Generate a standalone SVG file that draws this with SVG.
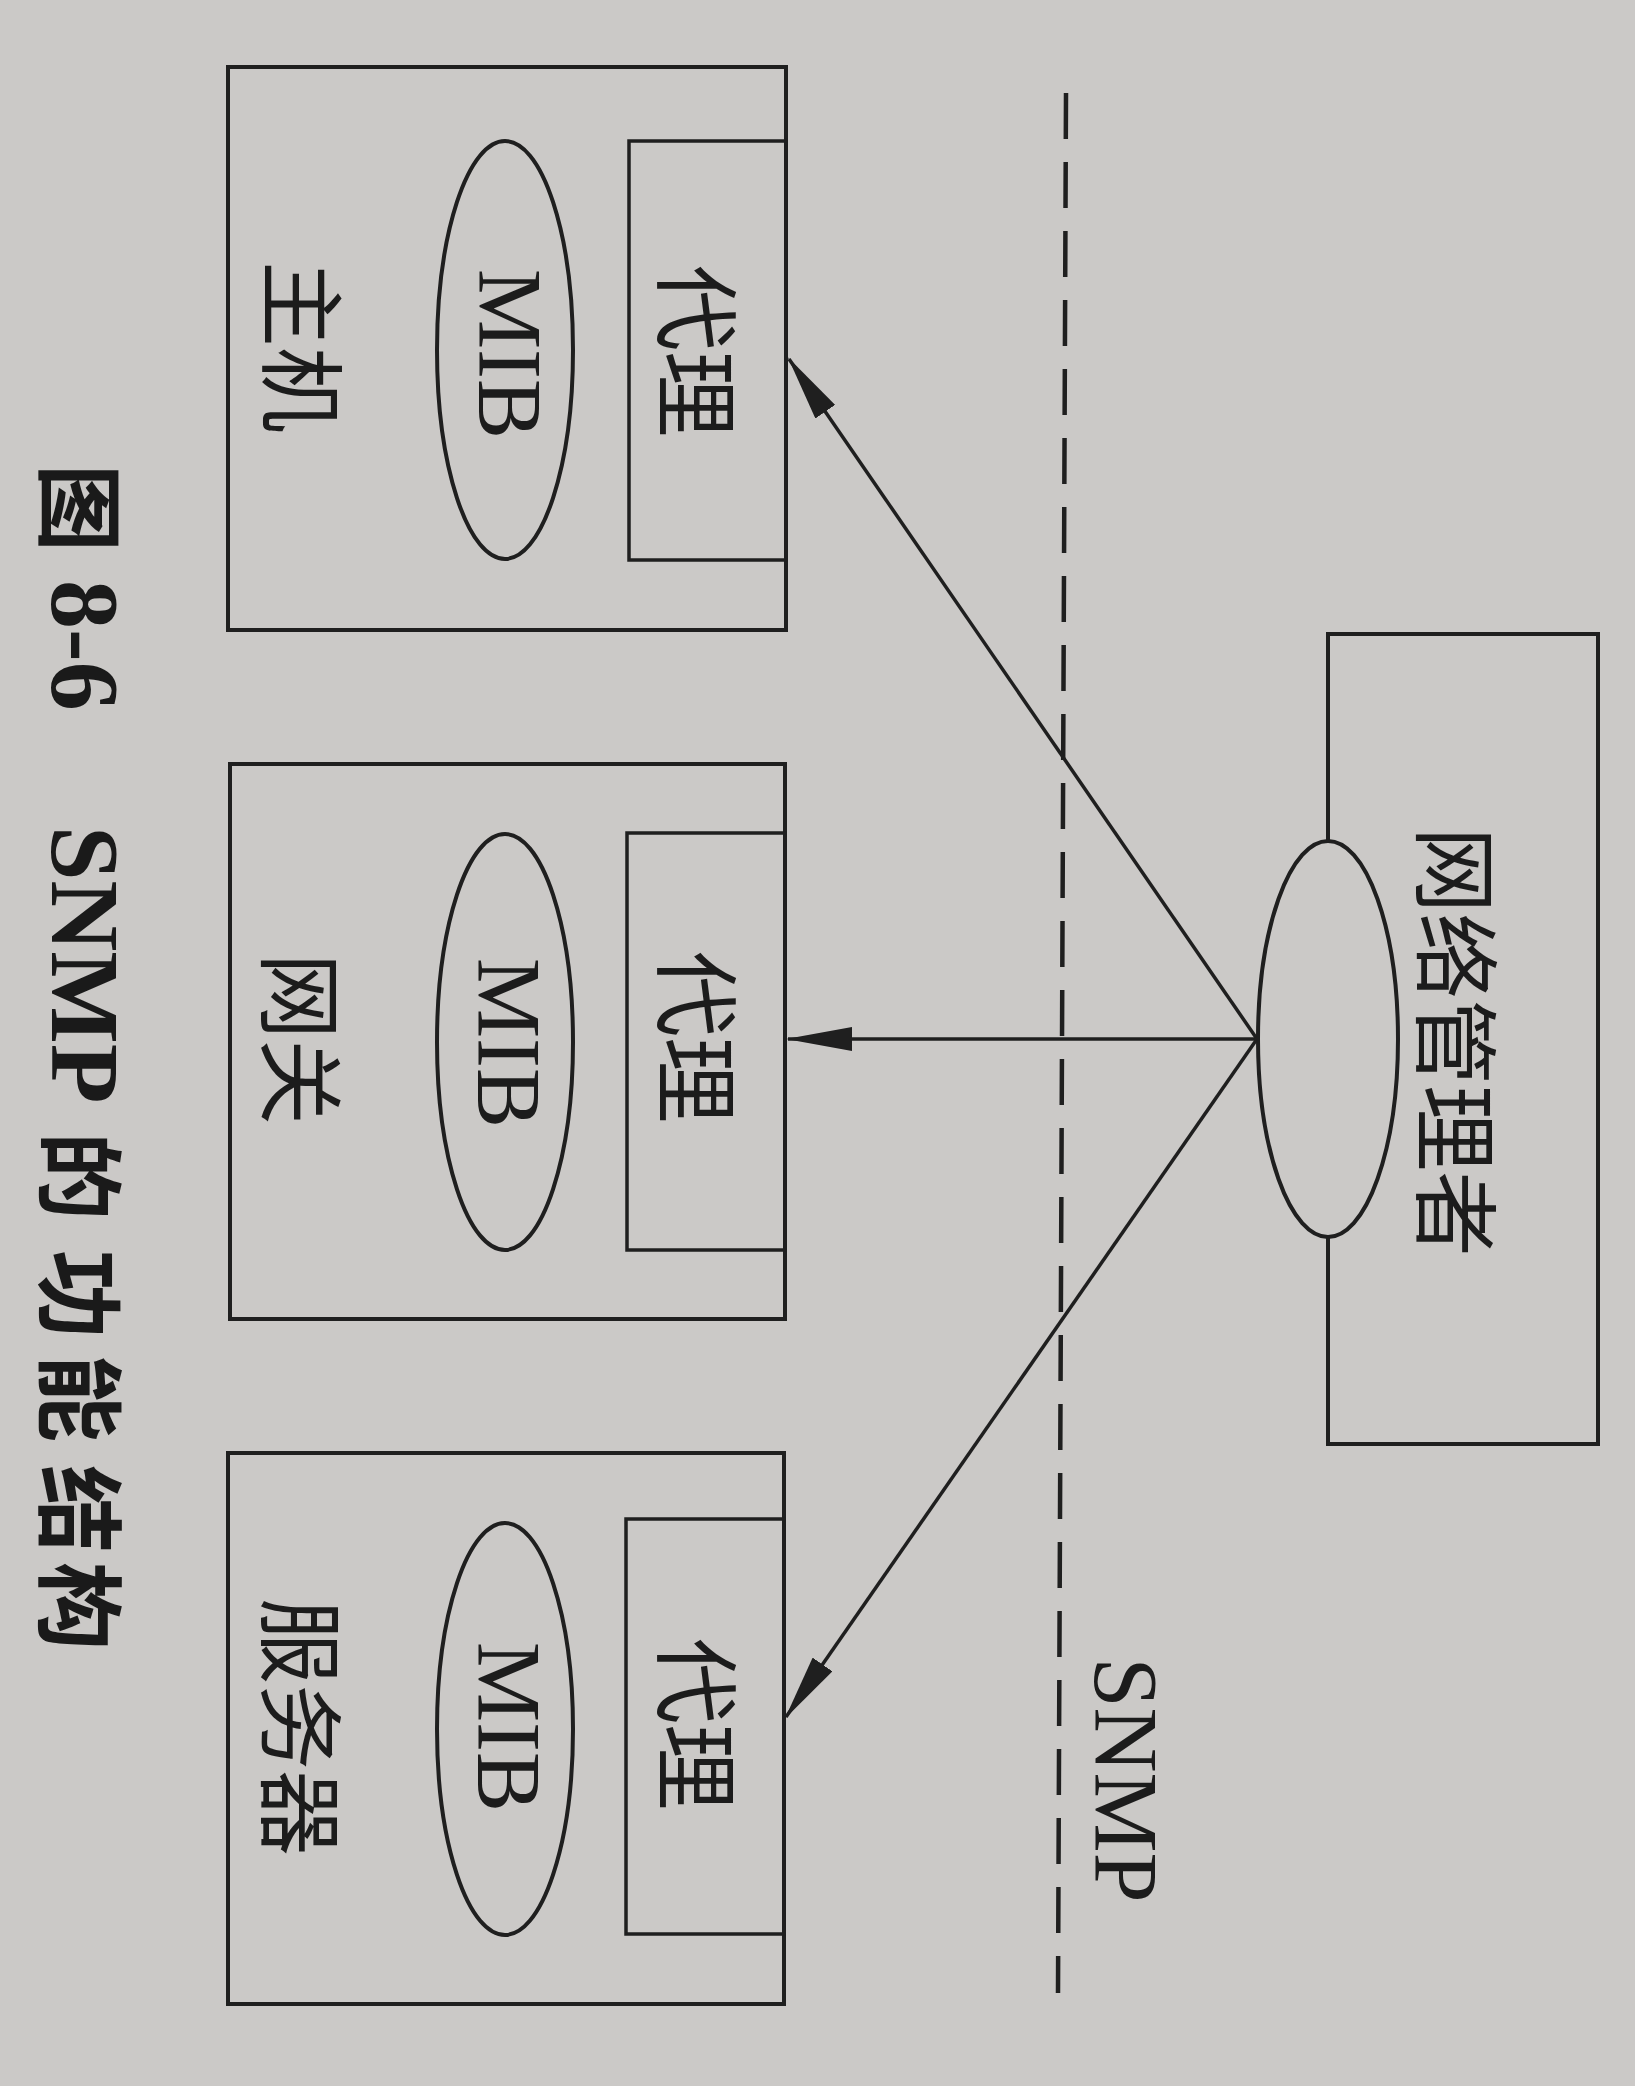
<svg xmlns="http://www.w3.org/2000/svg" width="1635" height="2086" viewBox="0 0 1635 2086">
  <style>
    .box { fill: none; stroke: #1f1f1f; stroke-width: 4; }
    .inner { fill: none; stroke: #1f1f1f; stroke-width: 3.5; }
    .ell { fill: #cbc9c7; stroke: #1f1f1f; stroke-width: 4; }
    .cjk { font-family: "Noto Sans CJK SC", "Noto Sans", sans-serif; font-size: 86px; fill: #1c1c1c; text-anchor: middle; dominant-baseline: central; }
    .lat { font-family: "Liberation Serif", "DejaVu Serif", serif; font-size: 90px; fill: #1c1c1c; text-anchor: middle; dominant-baseline: central; }
    .conn { stroke: #1f1f1f; stroke-width: 3.5; fill: none; marker-end: url(#arr); }
    .dash { stroke: #1f1f1f; stroke-width: 4.5; fill: none; stroke-dasharray: 46 23; }
    .cap { font-family: "Noto Sans CJK SC", "Noto Sans", sans-serif; font-size: 88px; font-weight: bold; fill: #1a1a1a; dominant-baseline: central; }
    .capl { font-family: "Liberation Serif", "DejaVu Serif", serif; font-size: 98px; font-weight: bold; fill: #1a1a1a; dominant-baseline: central; }
  </style>
  <defs>
    <marker id="arr" viewBox="0 0 66 24" refX="64" refY="12" markerWidth="66" markerHeight="24" markerUnits="userSpaceOnUse" orient="auto">
      <path d="M0,0 L66,12 L0,24 Z" fill="#1f1f1f"/>
    </marker>
  </defs>
  <rect x="0" y="0" width="1635" height="2086" fill="#cbc9c7"/>

  <g id="connectors">
    <line class="dash" x1="1066" y1="93" x2="1058" y2="1993"/>
    <line class="conn" x1="1257" y1="1039" x2="789" y2="359"/>
    <line class="conn" x1="1257" y1="1039" x2="788" y2="1039"/>
    <line class="conn" x1="1257" y1="1039" x2="786" y2="1717"/>
  </g>

  <g id="snmp-label">
    <text class="lat" font-size="88" transform="translate(1125,1780) rotate(90)">SNMP</text>
  </g>

  <g id="manager">
    <rect class="box" x="1328" y="634" width="270" height="810"/>
    <ellipse class="ell" cx="1328" cy="1039" rx="70" ry="198"/>
    <text class="cjk" font-size="87" transform="translate(1460,1042) rotate(90)">网络管理者</text>
  </g>

  <g id="host">
    <rect class="box" x="228" y="67" width="558" height="563"/>
    <rect class="inner" x="629" y="141" width="157" height="419"/>
    <ellipse class="ell" cx="505" cy="350" rx="68" ry="209"/>
    <text class="cjk" transform="translate(701,351) rotate(90)">代理</text>
    <text class="lat" transform="translate(509,354) rotate(90)">MIB</text>
    <text class="cjk" transform="translate(306,347) rotate(90)">主机</text>
  </g>

  <g id="gateway">
    <rect class="box" x="230" y="764" width="555" height="555"/>
    <rect class="inner" x="627" y="833" width="158" height="417"/>
    <ellipse class="ell" cx="505" cy="1042" rx="68" ry="208"/>
    <text class="cjk" transform="translate(701,1037) rotate(90)">代理</text>
    <text class="lat" transform="translate(508,1043) rotate(90)">MIB</text>
    <text class="cjk" transform="translate(305,1039) rotate(90)">网关</text>
  </g>

  <g id="server">
    <rect class="box" x="228" y="1453" width="556" height="551"/>
    <rect class="inner" x="626" y="1519" width="158" height="415"/>
    <ellipse class="ell" cx="505" cy="1729" rx="68" ry="206"/>
    <text class="cjk" transform="translate(701,1724) rotate(90)">代理</text>
    <text class="lat" transform="translate(508,1727) rotate(90)">MIB</text>
    <text class="cjk" transform="translate(305,1727) rotate(90)">服务器</text>
  </g>

  <g id="caption">
    <text transform="translate(85,0) rotate(90)">
      <tspan class="cap" x="464">图</tspan>
      <tspan class="capl" x="580">8-6</tspan>
      <tspan class="capl" x="826">SNMP</tspan>
      <tspan class="cap" x="1132">的</tspan>
      <tspan class="cap" x="1250">功</tspan>
      <tspan class="cap" x="1354">能</tspan>
      <tspan class="cap" x="1465">结</tspan>
      <tspan class="cap" x="1562">构</tspan>
    </text>
  </g>
</svg>
